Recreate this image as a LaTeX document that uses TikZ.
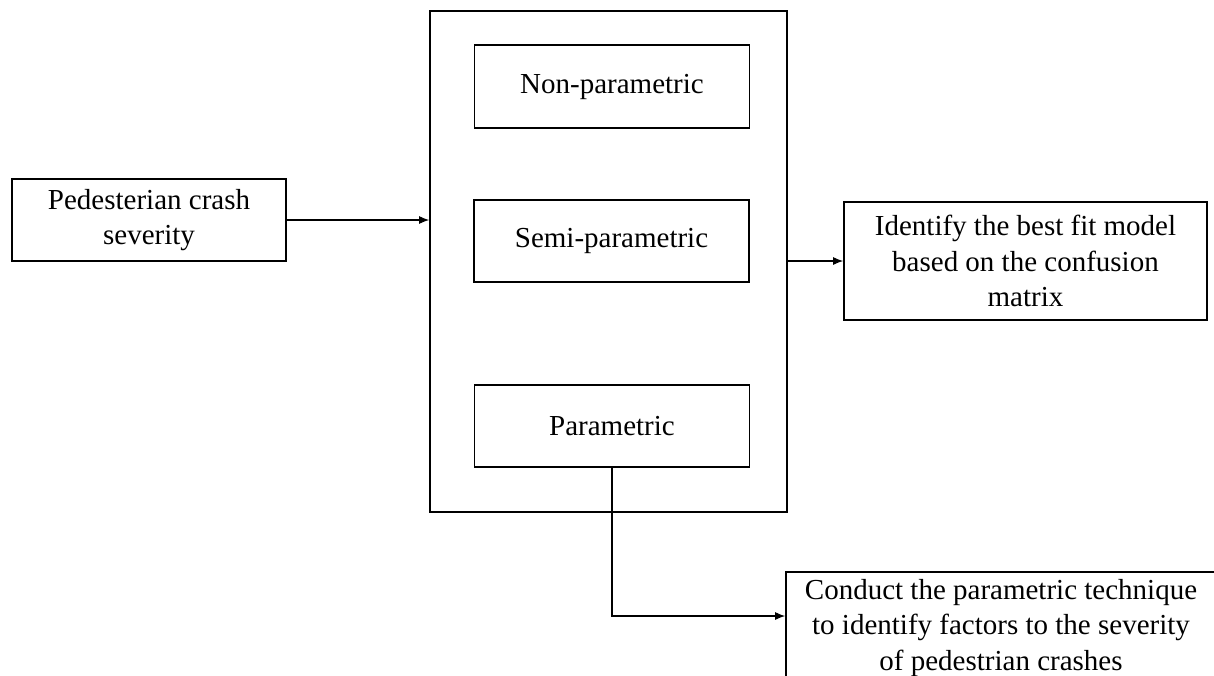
\documentclass[tikz,border=0pt]{standalone}
\usepackage{fontspec}
\setmainfont{Liberation Serif}
\usetikzlibrary{arrows.meta}

\begin{document}
\begin{tikzpicture}[x=0.75pt,y=0.75pt,yscale=-1,xscale=1,
  box/.style={draw, line width=1.3pt, align=center, inner sep=2pt,
    font=\fontsize{21.75}{26.5}\selectfont},
  link/.style={line width=0.8pt, -{Latex[length=7.5pt,width=6pt]}}]
%set diagram to 1214 x 675
\clip (0,0) rectangle (1214,675);

%Shape: outer rectangle of the three models
\node (methods) [box, minimum width=267.75pt, minimum height=375.75pt] at (608.5,261.5) {};
%Input
\node (crash) [box, minimum width=205.5pt, minimum height=61.5pt] at (149,220) {Pedesterian crash\\severity};
%Models
\node (nonpar) [box, minimum width=206.25pt, minimum height=62.25pt] at (612,86.5) {Non-parametric};
\node (semipar) [box, minimum width=206.25pt, minimum height=61.5pt] at (611.5,241) {Semi-parametric};
\node (par) [box, minimum width=206.25pt, minimum height=61.5pt] at (612,426) {Parametric};
%Outputs
\node (bestfit) [box, minimum width=272.25pt, minimum height=88.5pt] at (1025.5,261) {Identify the best fit model\\based on the confusion\\matrix};
\node (conduct) [box, minimum width=322.5pt, minimum height=84pt] at (1001,628) {Conduct the parametric technique\\to identify factors to the severity\\of pedestrian crashes};

% Connectors
\draw [link] (crash.east) -- (crash.east -| methods.west);
\draw [link] (bestfit.west -| methods.east) -- (bestfit.west);
\draw [link] (par.south) |- ([yshift=-9pt]conduct.west);

\end{tikzpicture}
\end{document}
